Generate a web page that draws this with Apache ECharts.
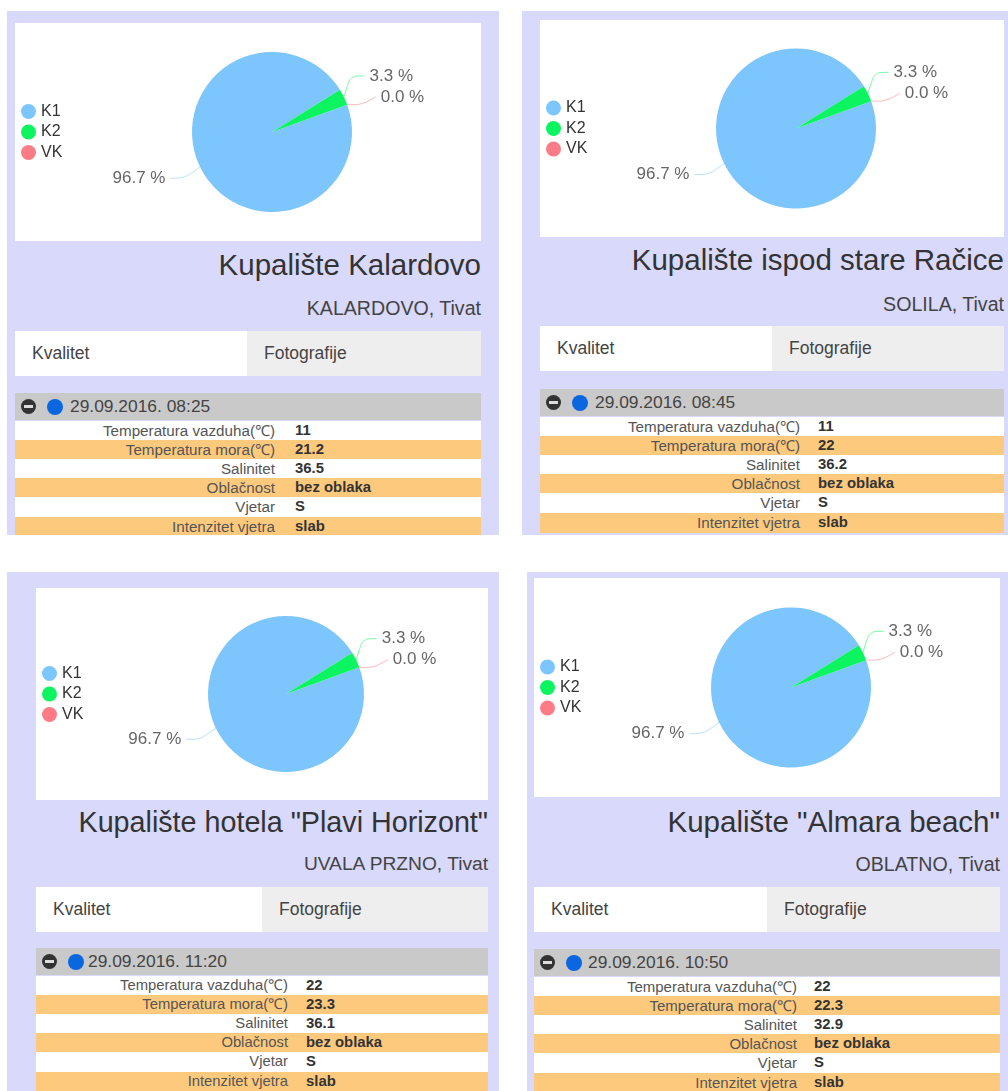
<!DOCTYPE html>
<html>
<head>
<meta charset="utf-8">
<script src="https://cdn.jsdelivr.net/npm/echarts@6/dist/echarts.min.js"></script>
<style>
html,body{margin:0;padding:0;background:#fff;width:1008px;height:1091px;overflow:hidden;font-family:"Liberation Sans",Arial,sans-serif;}
.panel{position:absolute;background:#d9d9fb;overflow:hidden;}
.abs{position:absolute;white-space:nowrap;}
.chart{position:absolute;background:#fff;}
.title{color:#333;text-align:right;line-height:34px;}
.sub{color:#444;text-align:right;line-height:24px;}
.tab{position:absolute;font-size:17.5px;color:#444;line-height:45px;height:45px;box-sizing:border-box;padding-left:17px;}
.head{position:absolute;background:#c9c9c9;height:27px;}
.date{position:absolute;top:0;line-height:26px;font-size:17.4px;color:#444;white-space:nowrap;}
.minus{position:absolute;left:6px;top:6px;width:15px;height:15px;border-radius:50%;background:#333;}
.minus:after{content:"";position:absolute;left:3px;right:3px;top:6px;height:3px;background:#ddd;}
.dot{position:absolute;left:32px;top:6px;width:16px;height:16px;border-radius:50%;background:#0a67e0;}
.row{position:absolute;height:20px;line-height:19.6px;}
.row .l{position:absolute;text-align:right;color:#555;white-space:nowrap;}
.row .v{position:absolute;font-weight:bold;color:#333;white-space:nowrap;font-size:14.9px;}
</style>
</head>
<body>
<script>
const categories = ['K1', 'K2', 'VK'];
const shares = [96.7, 3.3, 0.0];
const sliceColors = ['#7cc5fd', '#0cf45f', '#fb7c86'];
const beachNames = ['Kupalište Kalardovo', 'Kupalište ispod stare Račice', 'Kupalište hotela "Plavi Horizont"', 'Kupalište "Almara beach"'];
const places = ['KALARDOVO, Tivat', 'SOLILA, Tivat', 'UVALA PRZNO, Tivat', 'OBLATNO, Tivat'];
const times = ['29.09.2016. 08:25', '29.09.2016. 08:45', '29.09.2016. 11:20', '29.09.2016. 10:50'];
const rowLabels = ['Temperatura vazduha(℃)', 'Temperatura mora(℃)', 'Salinitet', 'Oblačnost', 'Vjetar', 'Intenzitet vjetra'];
const airTemps = ['11', '11', '22', '22'];
const seaTemps = ['21.2', '22', '23.3', '22.3'];
const salinities = ['36.5', '36.2', '36.1', '32.9'];
const clouds = ['bez oblaka', 'bez oblaka', 'bez oblaka', 'bez oblaka'];
const winds = ['S', 'S', 'S', 'S'];
const windStrengths = ['slab', 'slab', 'slab', 'slab'];
const tabNames = ['Kvalitet', 'Fotografije'];

// page layout, one entry per panel
const layout = [
  {px:7,  py:11,  pw:492, ph:524, cx:15,  cy:23,  cw:466, ch:218, pieX:257, pieR:80, titleY:248, subY:296, tabY:331, tabW:232, headY:393, labelR:275, valueX:295, tf:29.5, sf:19.6, lf:15.2, dl:55},
  {px:522,py:11,  pw:486, ph:524, cx:540, cy:20,  cw:464, ch:217, pieX:256, pieR:80, titleY:243, subY:292, tabY:326, tabW:232, headY:389, labelR:800, valueX:818, tf:29.5, sf:19.6, lf:15.2, dl:55},
  {px:7,  py:572, pw:492, ph:519, cx:36,  cy:588, cw:452, ch:212, pieX:250, pieR:78, titleY:805, subY:852, tabY:887, tabW:226, headY:948, labelR:288, valueX:306, tf:28.7, sf:19.2, lf:14.8, dl:52},
  {px:527,py:572, pw:481, ph:519, cx:534, cy:578, cw:466, ch:219, pieX:257, pieR:80, titleY:805, subY:852, tabY:887, tabW:233, headY:949, labelR:797, valueX:814, tf:29.5, sf:19.6, lf:15.0, dl:54}
];
// nudges applied to the library's own label positions
const labelShift = [{dx:-3, dy:5, bend:1}, {dx:-6, dy:-15, bend:1}, {dx:2, dy:-13, bend:0.4}];

function el(parent, cls, styles, text) {
  const d = document.createElement('div');
  d.className = cls;
  Object.assign(d.style, styles);
  if (text !== undefined) d.textContent = text;
  parent.appendChild(d);
  return d;
}

function shiftLabel(p) {
  const s = labelShift[p.dataIndex];
  const pts = p.labelLinePoints;
  return {
    dx: s.dx,
    dy: s.dy,
    labelLinePoints: [
      pts[0],
      [pts[1][0] + s.dx, pts[1][1] + s.dy * s.bend],
      [pts[2][0] + s.dx, pts[2][1] + s.dy]
    ]
  };
}

layout.forEach((L, i) => {
  const panel = el(document.body, 'panel', {left:L.px+'px', top:L.py+'px', width:L.pw+'px', height:L.ph+'px'});
  const x0 = L.cx - L.px, right = L.cx + L.cw - L.px;
  const chartBox = el(panel, 'chart', {left:x0+'px', top:(L.cy-L.py)+'px', width:L.cw+'px', height:L.ch+'px'});
  el(panel, 'abs title', {right:(L.pw-right)+'px', top:(L.titleY-L.py)+'px', fontSize:L.tf+'px'}, beachNames[i]);
  el(panel, 'abs sub', {right:(L.pw-right)+'px', top:(L.subY-L.py)+'px', fontSize:L.sf+'px'}, places[i]);
  el(panel, 'tab', {left:x0+'px', top:(L.tabY-L.py)+'px', width:L.tabW+'px', background:'#fff'}, tabNames[0]);
  el(panel, 'tab', {left:(x0+L.tabW)+'px', top:(L.tabY-L.py)+'px', width:(L.cw-L.tabW)+'px', background:'#eeeeee'}, tabNames[1]);
  const head = el(panel, 'head', {left:x0+'px', top:(L.headY-L.py)+'px', width:L.cw+'px'});
  el(head, 'minus', {});
  el(head, 'dot', {});
  el(head, 'date', {left:L.dl+'px'}, times[i]);
  const values = [airTemps[i], seaTemps[i], salinities[i], clouds[i], winds[i], windStrengths[i]];
  rowLabels.forEach((lab, r) => {
    const row = el(panel, 'row', {left:x0+'px', top:(L.headY-L.py+27.5+r*19.2)+'px', width:L.cw+'px', background:r%2?'#fdc97d':'#fff'});
    el(row, 'l', {right:(L.cx+L.cw-L.labelR)+'px', fontSize:L.lf+'px'}, lab);
    el(row, 'v', {left:(L.valueX-L.cx)+'px'}, values[r]);
  });

  const chart = echarts.init(chartBox, null, {renderer:'canvas'});
  chart.setOption({
    animation:false,
    color:sliceColors,
    legend:{
      orient:'vertical', left:6, top:'middle', padding:0,
      icon:'circle', itemWidth:15, itemHeight:15, itemGap:4.5,
      textStyle:{fontSize:16, color:'#333', fontFamily:'"Liberation Sans",Arial,sans-serif'},
      data:categories
    },
    series:[{
      type:'pie',
      center:[L.pieX, '50%'],
      radius:[0, L.pieR],
      startAngle:20,
      clockwise:true,
      data:categories.map((c, k) => ({name:c, value:shares[k]})),
      label:{
        formatter:p => p.value.toFixed(1) + ' %',
        fontSize:17, color:'#666', fontFamily:'"Liberation Sans",Arial,sans-serif'
      },
      labelLine:{show:true, length:14, length2:14, smooth:0.3, lineStyle:{width:1, opacity:0.55}},
      labelLayout:shiftLabel,
      emphasis:{disabled:true}
    }]
  });
});
</script>
</body>
</html>
